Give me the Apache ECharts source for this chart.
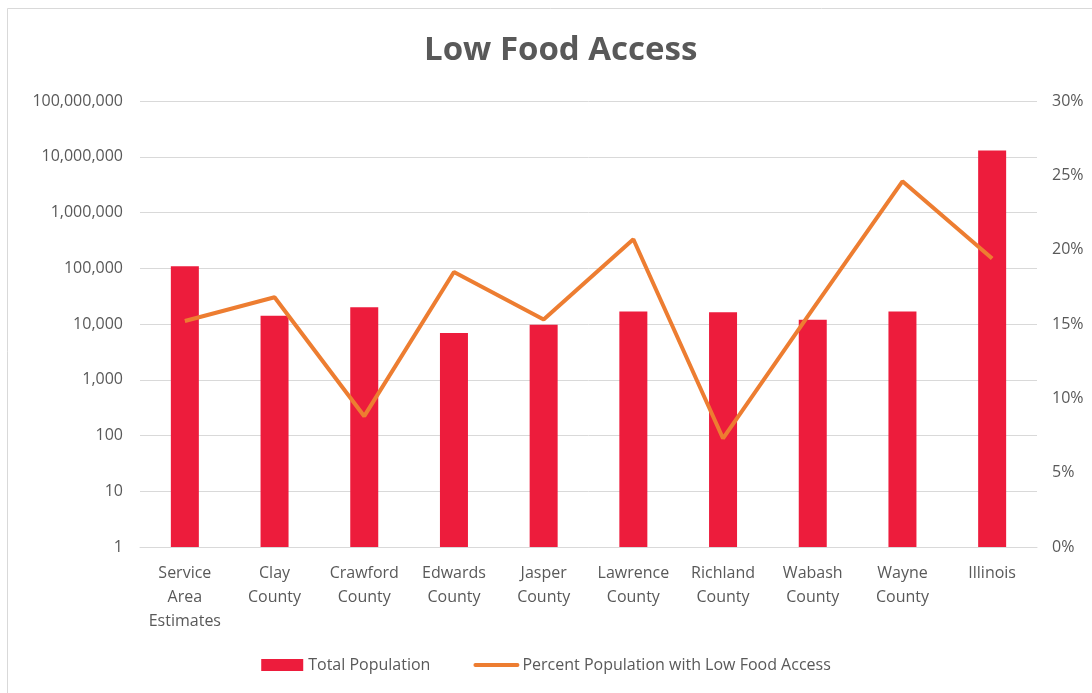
<!DOCTYPE html>
<html>
<head>
<meta charset="utf-8">
<script src="https://cdn.jsdelivr.net/npm/echarts@6/dist/echarts.min.js"></script>
<style>
html,body{margin:0;padding:0;background:#fff;}
#chart{width:1092px;height:693px;}
</style>
</head>
<body>
<div id="chart"></div>
<script>
const categories = ["Service Area Estimates","Clay County","Crawford County","Edwards County","Jasper County","Lawrence County","Richland County","Wabash County","Wayne County","Illinois"];
const totalPopulation = [109000, 14000, 20000, 6900, 9700, 16800, 16200, 11900, 16800, 12900000];
const percentLowAccess = [15.2, 16.8, 8.8, 18.5, 15.3, 20.7, 7.3, 16.0, 24.6, 19.4];
const leftTicks = ["1","10","100","1,000","10,000","100,000","1,000,000","10,000,000","100,000,000"];

const chart = echarts.init(document.getElementById('chart'));
const font = '"Open Sans", "Noto Sans", sans-serif';
chart.setOption({
  backgroundColor: '#fff',
  animation: false,
  graphic: [{
    type: 'rect', shape: {x: 7.5, y: 8.5, width: 1100, height: 700},
    style: {fill: 'none', stroke: '#d9d9d9', lineWidth: 1}
  }],
  title: {
    text: 'Low Food Access', left: 419, top: 29,
    textStyle: {fontFamily: font, fontSize: 33, fontWeight: 'bold', color: '#595959'}
  },
  legend: {
    bottom: 15, left: 'center', itemWidth: 42, itemHeight: 12, itemGap: 43,
    textStyle: {fontFamily: font, fontSize: 16, color: '#595959'},
    data: [
      {name: 'Total Population', icon: 'rect'},
      {name: 'Percent Population with Low Food Access', itemStyle: {color: 'transparent', borderWidth: 0, opacity: 0}, lineStyle: {width: 4, color: '#ED7D31', cap: 'round'}}
    ]
  },
  grid: {left: 140, right: 55, top: 101, bottom: 146},
  xAxis: {
    type: 'category', data: categories,
    axisTick: {show: false},
    axisLine: {lineStyle: {color: '#d9d9d9'}},
    axisLabel: {
      fontFamily: font, fontSize: 16, color: '#595959', margin: 14, lineHeight: 24,
      interval: 0,
      formatter: v => v.split(' ').join('\n')
    }
  },
  yAxis: [{
    type: 'log', logBase: 10, min: 1, max: 100000000, interval: 1,
    axisLine: {show: false}, axisTick: {show: false},
    splitLine: {lineStyle: {color: '#d9d9d9', width: 1}},
    axisLabel: {
      fontFamily: font, fontSize: 16, color: '#595959', margin: 17,
      formatter: v => { const i = Math.round(Math.log10(v)); return leftTicks[i] !== undefined ? leftTicks[i] : v; }
    }
  }, {
    type: 'value', min: 0, max: 30, interval: 5,
    axisLine: {show: false}, axisTick: {show: false}, splitLine: {show: false},
    axisLabel: {fontFamily: font, fontSize: 16, color: '#595959', margin: 15, formatter: '{value}%'}
  }],
  series: [{
    name: 'Total Population', type: 'bar', data: totalPopulation, barWidth: 28,
    itemStyle: {color: '#ED1C3C'}
  }, {
    name: 'Percent Population with Low Food Access', type: 'line', yAxisIndex: 1,
    data: percentLowAccess, symbol: 'none',
    lineStyle: {color: '#ED7D31', width: 4}, itemStyle: {color: '#ED7D31'}
  }]
});
</script>
</body>
</html>
